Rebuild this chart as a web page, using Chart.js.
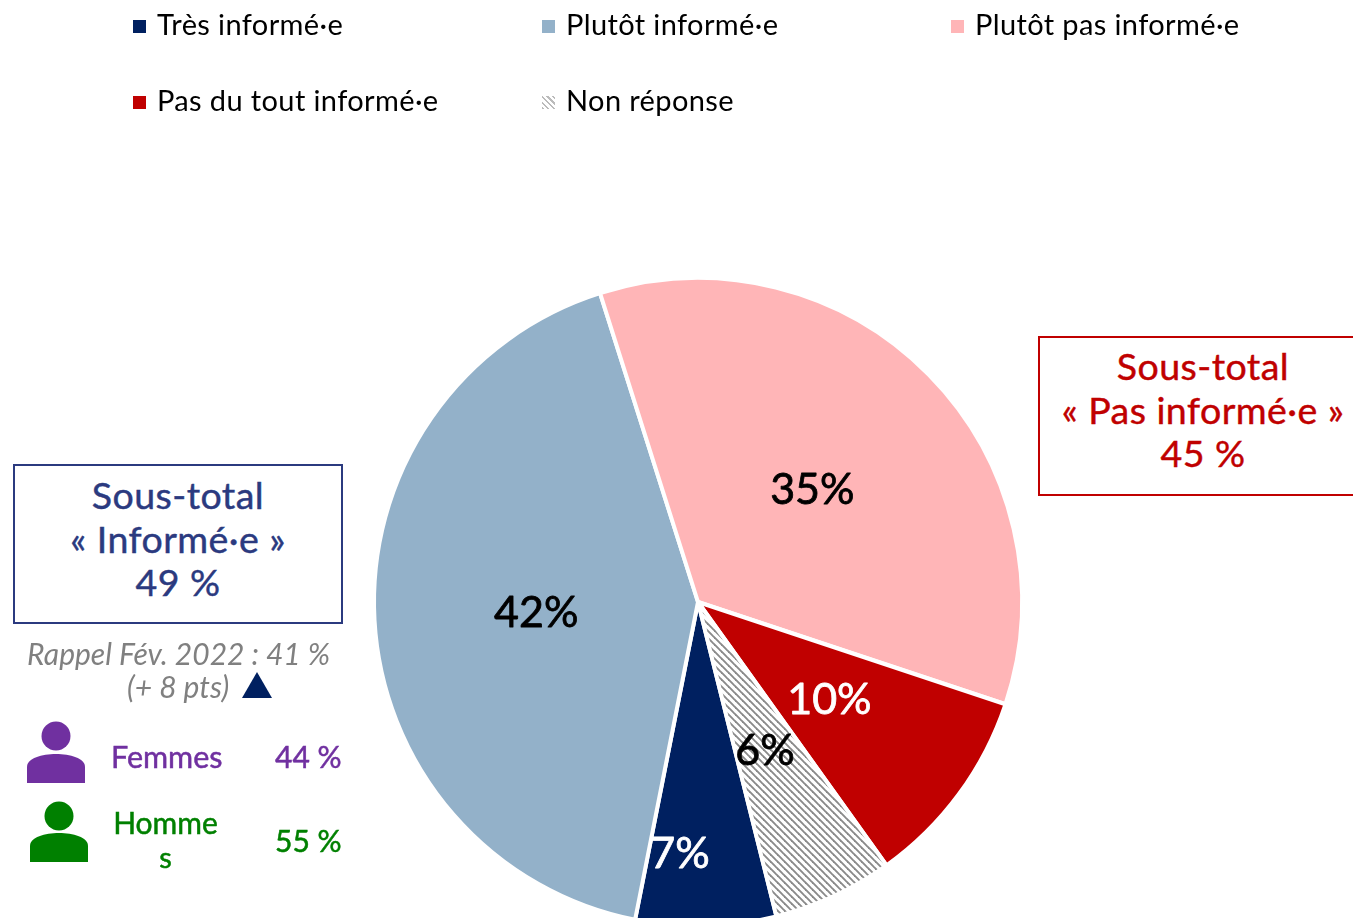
<!DOCTYPE html>
<html lang="fr"><head><meta charset="utf-8">
<script src="https://cdn.jsdelivr.net/npm/chart.js@4"></script>
<style>
html,body{margin:0;padding:0;width:1353px;height:918px;overflow:hidden;background:#fff;font-family:Lato,sans-serif}
#wrap{position:relative;width:1353px;height:918px;overflow:hidden}
canvas#c{position:absolute;left:0;top:0}
.t{position:absolute;white-space:nowrap;line-height:1}
.box{position:absolute;box-sizing:border-box;background:#fff;text-align:center;font-size:37.5px;line-height:43.5px;-webkit-text-stroke:.45px currentColor;letter-spacing:.45px}
.lg{position:absolute;font-size:29px;line-height:34px;color:#000;white-space:nowrap;letter-spacing:.38px}
.mk{position:absolute;width:13px;height:13px}
.s{-webkit-text-stroke:.5px currentColor}
</style></head><body><div id="wrap">
<canvas id="c" width="1353" height="940" style="width:1353px;height:940px"></canvas>
<div id="legend"></div>
<div class="box" style="left:13px;top:464px;width:330px;height:160px;border:2px solid #2B3A7F;color:#2B3A7F;padding-top:7px">Sous-total<br>« Informé·e »<br>49 %</div>
<div class="box" style="left:1038px;top:336px;width:330px;height:160px;border:2px solid #C00000;color:#C00000;padding-top:6px">Sous-total<br>« Pas informé·e »<br>45 %</div>
<div class="t" style="left:27px;top:638px;font-size:30px;font-style:italic;color:#808080">Rappel Fév. 2022 : 41 %</div>
<div class="t" style="left:127px;top:671px;font-size:30px;font-style:italic;color:#808080">(+ 8 pts)</div>
<svg style="position:absolute;left:0;top:0" width="360" height="918">
<polygon points="242,698 272,698 257,672" fill="#002060"/>
<g fill="#7030A0"><circle cx="56" cy="736" r="14.5"/><path d="M27 783V767C27 758 42 754 56 754C70 754 85 758 85 767V783Z"/></g>
<g fill="#008000"><circle cx="59" cy="816" r="14.5"/><path d="M30 862V846C30 837 45 833 59 833C73 833 88 837 88 846V862Z"/></g>
</svg>
<div class="t s" style="left:111px;top:741px;font-size:30.5px;color:#7030A0;width:111px;text-align:center">Femmes</div>
<div class="t s" style="left:275px;top:741px;font-size:30px;color:#7030A0">44 %</div>
<div class="t s" style="left:110px;top:807px;font-size:30px;color:#008000;width:111px;text-align:center">Homme</div>
<div class="t s" style="left:110px;top:842px;font-size:29px;color:#008000;width:111px;text-align:center">s</div>
<div class="t s" style="left:275px;top:825px;font-size:30px;color:#008000">55 %</div>
</div>
<script>
const categories=["Très informé·e","Plutôt informé·e","Plutôt pas informé·e","Pas du tout informé·e","Non réponse"];
const values=[7,42,35,10,6];
const sliceColors=["#002060","#93B1C9","#FFB5B7","#C00000"];
const labelColors=["#fff","#000","#000","#fff","#000"];
const labelOffsets=[[-22,90],[0,2],[-1,2],[1,2],[-1,2]];
const legendSpots=[[133,7],[542,7],[951,7],[133,83],[542,83]];

function hatch(){
  const p=document.createElement('canvas');p.width=7;p.height=7;
  const g=p.getContext('2d');g.fillStyle='#fff';g.fillRect(0,0,7,7);
  g.strokeStyle='#8a8a8a';g.lineWidth=1.9;
  [[-1,-1,8,8],[-4.5,2.5,4.5,11.5],[2.5,-4.5,11.5,4.5]].forEach(s=>{g.beginPath();g.moveTo(s[0],s[1]);g.lineTo(s[2],s[3]);g.stroke();});
  return document.getElementById('c').getContext('2d').createPattern(p,'repeat');
}
const sliceLabels={id:'sliceLabels',afterDatasetsDraw(ch){
  const g=ch.ctx;g.save();g.font='43px Lato';g.textAlign='center';g.textBaseline='middle';g.lineWidth=.8;g.lineJoin='round';
  ch.getDatasetMeta(0).data.forEach((a,i)=>{
    const m=(a.startAngle+a.endAngle)/2,r=a.outerRadius/2;
    const x=a.x+Math.cos(m)*r+labelOffsets[i][0],y=a.y+Math.sin(m)*r+labelOffsets[i][1];
    g.fillStyle=g.strokeStyle=labelColors[i];
    g.strokeText(values[i]+'%',x,y);
    g.fillText(values[i]+'%',x,y);
  });g.restore();}};
new Chart(document.getElementById('c'),{type:'pie',plugins:[sliceLabels],
 data:{labels:categories,datasets:[{data:values,backgroundColor:[...sliceColors,hatch()],borderColor:'#fff',borderWidth:4}]},
 options:{responsive:false,animation:false,rotation:166,
  layout:{padding:{left:372,top:276,right:329,bottom:12}},
  plugins:{legend:{display:false},tooltip:{enabled:false}}}});
const lg=document.getElementById('legend');
categories.forEach((n,i)=>{
  const [x,y]=legendSpots[i];
  const m=document.createElement('div');m.className='mk';m.style.left=x+'px';m.style.top=(y+13)+'px';
  m.style.background=i<4?sliceColors[i]:'repeating-linear-gradient(45deg,#bbb 0 1.5px,#fff 1.5px 4px)';
  const t=document.createElement('div');t.className='lg';t.textContent=n;t.style.left=(x+24)+'px';t.style.top=y+'px';
  lg.append(m,t);
});
</script></body></html>
